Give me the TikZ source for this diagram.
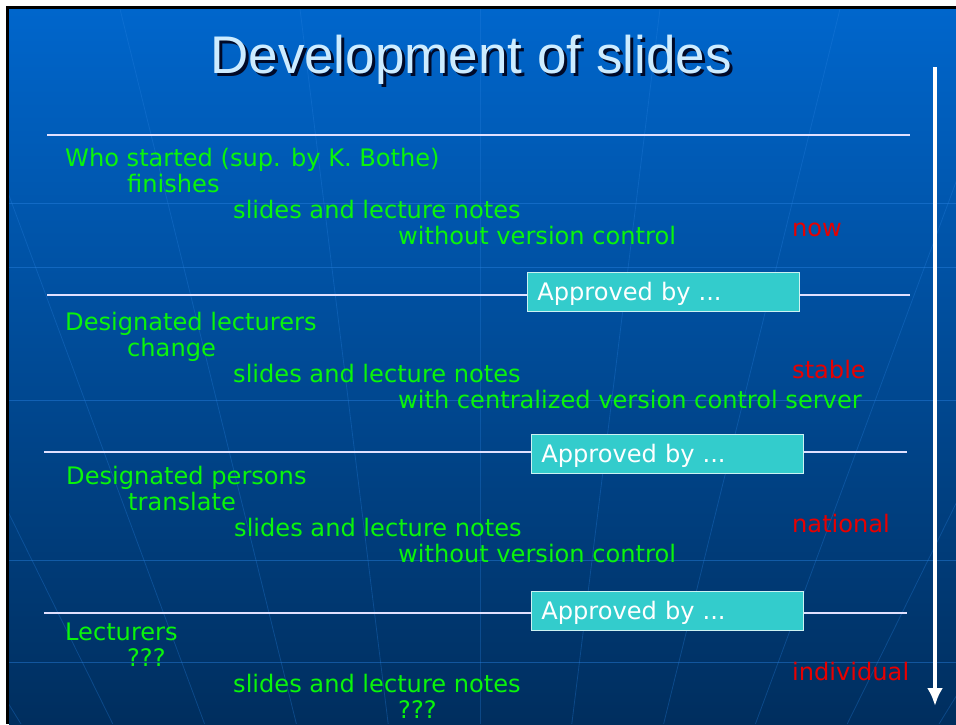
\documentclass[tikz,border=0pt]{standalone}
\usepackage{fontspec}
\setmainfont{DejaVu Sans}
\newfontfamily\titlefont{Liberation Sans}
\usetikzlibrary{arrows.meta}

\definecolor{slidetop}{RGB}{0,102,204}
\definecolor{slidebottom}{RGB}{0,46,94}
\definecolor{globeline}{RGB}{40,130,225}
\definecolor{textgreen}{RGB}{10,245,10}
\definecolor{erared}{RGB}{232,0,0}
\definecolor{boxcyan}{RGB}{51,204,204}
\definecolor{titleblue}{RGB}{205,236,255}
\definecolor{titleshadow}{RGB}{0,10,40}

\begin{document}
\begin{tikzpicture}
		[
		x=1pt, y=-1pt, >={Latex[length=18pt,width=16pt]},
		font=\fontsize{24.1}{28}\selectfont,
		txt/.style={anchor=base west, inner sep=0pt, text=textgreen},
		era/.style={anchor=base west, inner sep=0pt, text=erared},
		approved/.style={anchor=north west, draw=white!75!boxcyan, line width=0.8pt,
			fill=boxcyan, text=white, minimum width=272pt, minimum height=39pt,
			text width=252pt, inner xsep=10pt, align=left, text height=17pt, text depth=0pt},
		sepline/.style={white!88!blue, line width=2.5pt}
		]
		
		%Rand und Hintergrund
		\useasboundingbox (0,0) rectangle (956,724);
		\fill[white] (0,0) rectangle (956,724);
		\fill[black] (6,6) rectangle (956,724);
		\shade[top color=slidetop, bottom color=slidebottom] (9,9) rectangle (956,724);
		
		%Globus-Linien
		\begin{scope}
			\clip (9,9) rectangle (956,724);
			\foreach \y in {203,267,400,560,662}
			\draw[globeline, opacity=0.45, line width=0.8pt] (9,\y) -- (956,\y);
			\foreach \x in {-600,-420,...,1600}
			\draw[globeline, opacity=0.3, line width=0.8pt] (\x,9) -- ({480+(\x-480)*0.51},724);
		\end{scope}
		
		%Titel
		\node[text=titleshadow, font=\titlefont\fontsize{53}{60}\selectfont, anchor=base, inner sep=0pt] (titleshadow) at (474,76) {Development of slides};
		\node[text=titleblue, font=\titlefont\fontsize{53}{60}\selectfont, anchor=base, inner sep=0pt] (title) at (471,73) {Development of slides};
		
		%Trennlinien
		\draw[sepline] (47,135) -- (910,135);
		\draw[sepline] (47,295) -- (910,295);
		\draw[sepline] (44,452) -- (907,452);
		\draw[sepline] (44,613) -- (907,613);
		
		%Freigabe-Kästen
		\node[approved] (approved1) at (527,272) {Approved by ...};
		\node[approved] (approved2) at (531,434) {Approved by ...};
		\node[approved] (approved3) at (531,591) {Approved by ...};
		
		%Textblöcke
		\foreach \i/\x/\y/\who/\act/\how in {
			1/65/166/{Who started (sup. by K. Bothe)}/finishes/{without version control},
			2/65/330/{Designated lecturers}/change/{with centralized version control server},
			3/66/484/{Designated persons}/translate/{without version control},
			4/65/640/{Lecturers}/???/???}
		{
			\node[txt] (who\i) at (\x,\y) {\who};
			\node[txt] (act\i) at (\x+62,\y+26) {\act};
			\node[txt] (what\i) at (\x+168,\y+52) {slides and lecture notes};
			\node[txt] (how\i) at (398,\y+78) {\how};
		}
		
		%Phasen
		\node[era] (now) at (792,236) {now};
		\node[era] (stable) at (792,378) {stable};
		\node[era] (national) at (792,532) {national};
		\node[era] (individual) at (792,680) {individual};
		
		%Zeitpfeil
		\coordinate (timetop) at (935,67);
		\coordinate (timeend) at (935,706);
		\draw[->, white, line width=4pt] (timetop) -- (timeend);
	\end{tikzpicture}
\end{document}
